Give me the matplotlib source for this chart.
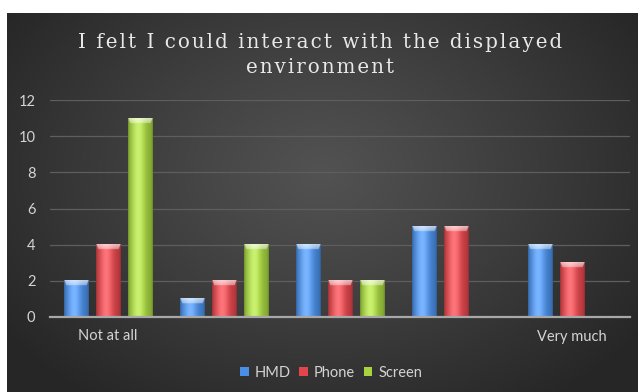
import numpy as np
import matplotlib
matplotlib.use("Agg")
import matplotlib.pyplot as plt
from matplotlib.patches import Patch
from matplotlib.colors import to_rgb

# Survey answers: number of participants per rating level
levels = ["Not at all", "", "", "", "Very much"]
hmd = [2, 1, 4, 5, 4]
phone = [4, 2, 2, 5, 3]
screen = [11, 4, 2, 0, 0]
series_names = ["HMD", "Phone", "Screen"]
series_colors = ["#4a8fe6", "#e2454b", "#a6d43f"]
title_lines = ["I felt I could interact with the displayed", "environment"]

W, H, DPI = 6.4, 3.92, 100
fig = plt.figure(figsize=(W, H), dpi=DPI, facecolor="white")

# dark panel with a soft radial glow
bg = fig.add_axes([7 / 640, 0, 631 / 640, 379 / 392], zorder=0)
yy, xx = np.mgrid[0:1:300j, 0:1:500j]
r = np.sqrt(((xx - 0.5) / 0.62) ** 2 + ((yy - 0.42) / 0.75) ** 2)
r = np.clip(r, 0, 1)
c_in = np.array(to_rgb("#525252"))
c_out = np.array(to_rgb("#262626"))
t = r[..., None] ** 1.1
img_bg = c_in * (1 - t) + c_out * t
bg.imshow(img_bg, extent=[0, 1, 0, 1], aspect="auto", origin="upper")
bg.set_axis_off()

ax = fig.add_axes([50 / 640, (392 - 317) / 392, 580 / 640, 217 / 392], zorder=1)
ax.set_facecolor("none")
ax.set_xlim(0, len(levels))
ax.set_ylim(0, 12)
ax.set_yticks(range(0, 13, 2))
ax.set_yticklabels([str(v) for v in range(0, 13, 2)])
ax.grid(axis="y", color="#5e5e5e", linewidth=0.9, zorder=0)
ax.set_axisbelow(True)
for s in ["top", "right", "left"]:
    ax.spines[s].set_visible(False)
ax.spines["bottom"].set_color("#a8a8a8")
ax.spines["bottom"].set_linewidth(1.6)
ax.spines["bottom"].set_zorder(5)
ax.tick_params(axis="both", length=0, colors="#d4d4d4", labelsize=10.5)
ax.tick_params(axis="y", pad=10.5)
ax.tick_params(axis="x", pad=9)

centers = np.arange(len(levels)) + 0.5
ax.set_xticks(centers)
ax.set_xticklabels(levels)
for lab in ax.get_yticklabels() + ax.get_xticklabels():
    lab.set_fontfamily("Lato")

px_per_unit = 217 / 12
bar_w = 0.215
step = 0.276


def bar_image(color, h_units):
    base = np.array(to_rgb(color))
    hp = max(int(round(h_units * px_per_unit * 2)), 2)
    wp = 50
    x = np.linspace(0, 1, wp)
    # horizontal shading: darker edges, bright sheen left of centre
    f = 0.82 + 0.30 * np.exp(-((x - 0.42) / 0.28) ** 2)
    edge = np.minimum(x, 1 - x)
    f = f - 0.18 * np.exp(-edge / 0.04)
    rows = base[None, :] * f[:, None]
    white_mix = 0.22 * np.exp(-((x - 0.4) / 0.25) ** 2)
    rows = rows * (1 - white_mix[:, None]) + white_mix[:, None]
    img = np.repeat(rows[None, :, :], hp, axis=0)
    # light bevel along the top edge
    bev = min(int(round(5 * 2)), hp)
    for i in range(bev):
        inset = (i + 1) / bev * 0.08
        m = (x > inset) & (x < 1 - inset)
        a = 0.65 * (1 - i / bev * 0.4)
        img[i, m] = img[i, m] * (1 - a) + a
    return np.clip(img, 0, 1)


for k, (vals, col) in enumerate(zip([hmd, phone, screen], series_colors)):
    bars = ax.bar(centers + (k - 1) * step, vals, width=bar_w,
                  color="none", edgecolor="none", zorder=3)
    for b in bars:
        h = b.get_height()
        if h <= 0:
            continue
        x0 = b.get_x()
        ax.imshow(bar_image(col, h), extent=[x0, x0 + b.get_width(), 0, h],
                  aspect="auto", origin="upper", zorder=3,
                  interpolation="bilinear")
ax.set_xlim(0, len(levels))
ax.set_ylim(0, 12)

# spaced-out title lettering
hair = "\u200a"
spaced = "\n".join(hair.join(line) for line in title_lines)
fig.text(0.5, (392 - 55) / 392, spaced, ha="center", va="center",
         fontsize=14.3, color="#e8e8e8", family="DejaVu Serif",
         linespacing=1.45, zorder=2)

handles = [Patch(facecolor=c, edgecolor="none") for c in series_colors]
leg = fig.legend(handles, series_names, loc="center",
                 bbox_to_anchor=(331 / 640, (392 - 373) / 392), ncol=3,
                 frameon=False, handlelength=0.6, handleheight=0.6,
                 handletextpad=0.4, columnspacing=0.6,
                 prop={"family": "Lato", "size": 10.5})
for txt in leg.get_texts():
    txt.set_color("#d4d4d4")

fig.savefig("out.png", dpi=DPI, facecolor="white")
